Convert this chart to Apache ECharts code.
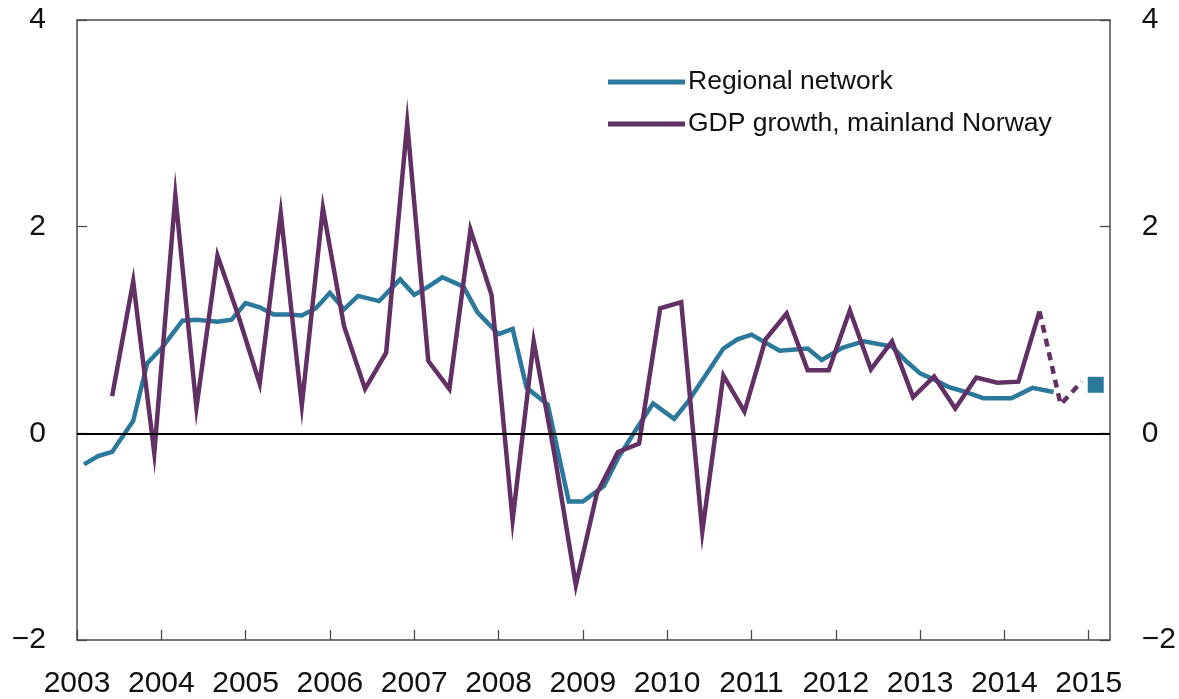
<!DOCTYPE html>
<html>
<head>
<meta charset="utf-8">
<script src="https://cdn.jsdelivr.net/npm/echarts@6/dist/echarts.min.js"></script>
<style>
html,body{margin:0;padding:0;background:#fff;}
#chart{width:1179px;height:699px;}
</style>
</head>
<body>
<div id="chart"></div>
<script>
// ---- Data ----
const yearTicks = [2003,2004,2005,2006,2007,2008,2009,2010,2011,2012,2013,2014,2015];
const yTicks = [-2, 0, 2, 4];

const regionalDates = ['2003-02','2003-04','2003-06','2003-09','2003-11','2004-01','2004-04','2004-06','2004-09','2004-11',
  '2005-01','2005-03','2005-05','2005-07','2005-09','2005-11','2006-01','2006-03','2006-05','2006-08','2006-11',
  '2007-01','2007-03','2007-05','2007-08','2007-10','2008-01','2008-03','2008-05','2008-08','2008-11',
  '2009-01','2009-04','2009-06','2009-09','2009-11','2010-02','2010-04','2010-09','2010-11',
  '2011-01','2011-05','2011-09','2011-11','2012-02','2012-05','2012-09','2012-11',
  '2013-01','2013-03','2013-05','2013-07','2013-10','2014-02','2014-05','2014-08'];
const regionalNetwork = [-0.30,-0.22,-0.18,0.12,0.68,0.82,1.09,1.10,1.08,1.10,
  1.26,1.22,1.15,1.15,1.14,1.21,1.36,1.20,1.33,1.28,1.49,
  1.34,1.42,1.51,1.42,1.17,0.96,1.01,0.44,0.28,-0.66,
  -0.66,-0.51,-0.24,0.08,0.29,0.14,0.31,0.82,0.91,
  0.955,0.80,0.82,0.71,0.83,0.89,0.84,0.70,
  0.58,0.52,0.45,0.41,0.34,0.34,0.44,0.40];
const regionalExpectedDates = ['2015-02'];
const regionalExpected = [0.47];

const gdpQuarters = ['2003Q2','2003Q3','2003Q4',
  '2004Q1','2004Q2','2004Q3','2004Q4','2005Q1','2005Q2','2005Q3','2005Q4',
  '2006Q1','2006Q2','2006Q3','2006Q4','2007Q1','2007Q2','2007Q3','2007Q4',
  '2008Q1','2008Q2','2008Q3','2008Q4','2009Q1','2009Q2','2009Q3','2009Q4',
  '2010Q1','2010Q2','2010Q3','2010Q4','2011Q1','2011Q2','2011Q3','2011Q4',
  '2012Q1','2012Q2','2012Q3','2012Q4','2013Q1','2013Q2','2013Q3','2013Q4',
  '2014Q1','2014Q2'];
const gdpGrowth = [0.36,1.47,-0.19,
  2.30,0.25,1.72,1.13,0.48,2.13,0.27,2.18,
  1.04,0.43,0.78,3.00,0.70,0.43,1.97,1.34,
  -0.84,0.89,-0.22,-1.47,-0.58,-0.18,-0.10,1.21,
  1.27,-0.95,0.56,0.21,0.91,1.16,0.61,0.61,
  1.19,0.62,0.89,0.35,0.55,0.24,0.54,0.49,
  0.50,1.18];
const gdpProjQuarters = ['2014Q2','2014Q3','2014Q4'];
const gdpProjection = [1.18, 0.28, 0.50];

const seriesNames = ['Regional network', 'GDP growth, mainland Norway'];

// ---- Helpers: convert dates to decimal-year positions on the value axis ----
function monthToYear(s){ const [y,m] = s.split('-').map(Number); return y + (m-1)/12; }
function quarterToYear(s){ const y = Number(s.slice(0,4)); const q = Number(s.slice(5)); return y + (3*q-1)/12; }
const zip = (xs, ys, f) => xs.map((d,i)=>[f(d), ys[i]]);

const BLUE = '#2a789b';
const PURPLE = '#623064';
const AXIS = '#4a4a4a';
const FONT = "'Liberation Sans', Arial, Helvetica, sans-serif";

const chart = echarts.init(document.getElementById('chart'), null, {renderer:'canvas'});
const axisCommon = {
  axisLine:{show:true, onZero:false, lineStyle:{color:AXIS, width:1.5}},
  splitLine:{show:false}
};
chart.setOption({
  animation:false,
  backgroundColor:'#fff',
  grid:{left:77, right:69, top:20, bottom:59, containLabel:false},
  legend:{
    data: seriesNames.map(n=>({name:n, icon:'rect'})),
    orient:'vertical', left:603, top:62,
    itemWidth:77, itemHeight:5, itemGap:12,
    textStyle:{fontFamily:FONT, fontSize:26.5, color:'#111', lineHeight:30, padding:[0,0,0,-2]},
    selectedMode:false
  },
  xAxis:[{
    type:'value', min:yearTicks[0], max:yearTicks[yearTicks.length-1]+0.25, interval:1,
    position:'bottom',
    ...axisCommon,
    axisTick:{show:true, inside:true, length:10, lineStyle:{color:AXIS, width:1.3}},
    axisLabel:{show:true, margin:29, fontFamily:FONT, fontSize:30, color:'#111',
      showMaxLabel:false,
      formatter:v=> (Number.isInteger(v) && yearTicks.includes(v)) ? String(v) : ''}
  },{
    type:'value', min:yearTicks[0], max:yearTicks[yearTicks.length-1]+0.25, interval:1,
    position:'top',
    ...axisCommon,
    axisTick:{show:false}, axisLabel:{show:false}
  }],
  yAxis:[{
    type:'value', min:yTicks[0], max:yTicks[yTicks.length-1], interval:2, position:'left',
    ...axisCommon,
    axisTick:{show:true, inside:true, length:10, lineStyle:{color:AXIS, width:1.3}},
    axisLabel:{margin:31, fontFamily:FONT, fontSize:30, color:'#111',
      formatter:v=> v<0 ? '\u2212'+Math.abs(v) : String(v)}
  },{
    type:'value', min:yTicks[0], max:yTicks[yTicks.length-1], interval:2, position:'right',
    ...axisCommon,
    axisTick:{show:true, inside:true, length:10, lineStyle:{color:AXIS, width:1.3}},
    axisLabel:{margin:32, fontFamily:FONT, fontSize:30, color:'#111',
      formatter:v=> v<0 ? '\u2212'+Math.abs(v) : String(v)}
  }],
  series:[
    {
      name:seriesNames[0], type:'line', xAxisIndex:0, yAxisIndex:0,
      data: zip(regionalDates, regionalNetwork, monthToYear),
      showSymbol:false, symbol:'none', z:3,
      lineStyle:{color:BLUE, width:4.5, join:'miter', miterLimit:50},
      itemStyle:{color:BLUE},
      markLine:{
        silent:true, symbol:['none','none'], label:{show:false},
        lineStyle:{color:'#000', width:2.2, type:'solid'},
        data:[{yAxis:0}]
      }
    },
    {
      name:seriesNames[1], type:'line', xAxisIndex:0, yAxisIndex:0,
      data: zip(gdpQuarters, gdpGrowth, quarterToYear),
      showSymbol:false, symbol:'none', z:4,
      lineStyle:{color:PURPLE, width:4.5, join:'miter', miterLimit:50, cap:'butt'},
      itemStyle:{color:PURPLE}
    },
    {
      name:'GDP projection', type:'line', xAxisIndex:0, yAxisIndex:0,
      data: zip(gdpProjQuarters, gdpProjection, quarterToYear),
      showSymbol:false, symbol:'none', z:4,
      lineStyle:{color:PURPLE, width:4.5, type:[8,6], join:'miter', miterLimit:50},
      itemStyle:{color:PURPLE}
    },
    {
      name:'Regional expected', type:'scatter', xAxisIndex:0, yAxisIndex:0,
      data: zip(regionalExpectedDates, regionalExpected, monthToYear),
      symbol:'rect', symbolSize:16, z:5,
      itemStyle:{color:BLUE, opacity:1}
    }
  ]
});
</script>
</body>
</html>
